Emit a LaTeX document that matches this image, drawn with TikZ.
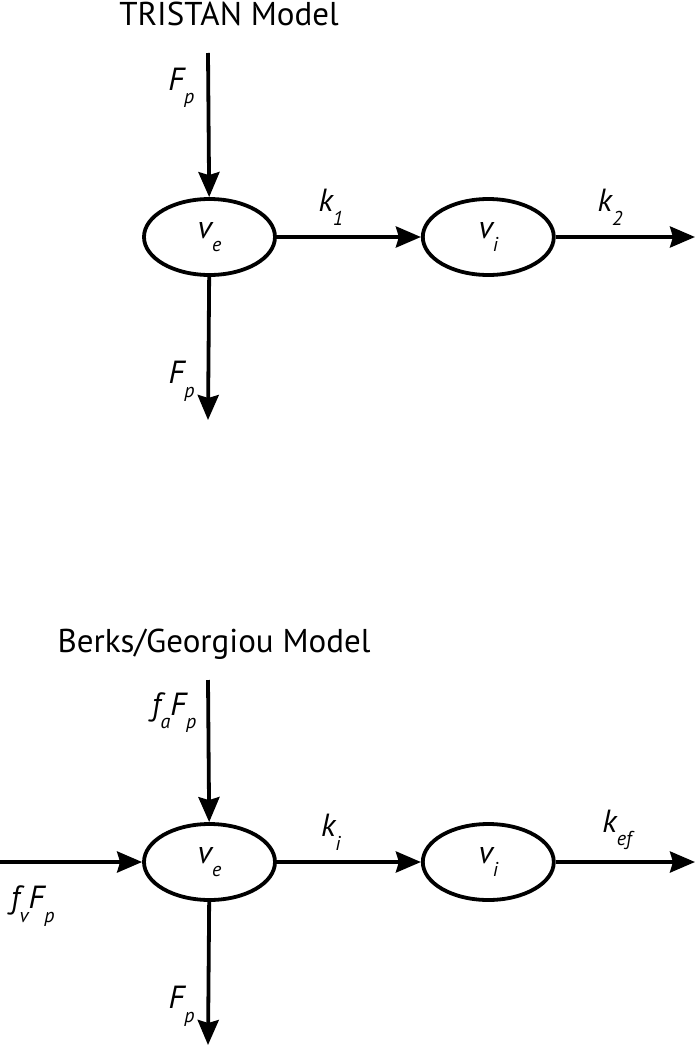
\documentclass[tikz,border=0pt]{standalone}
\usepackage{fontspec}
\setmainfont{PT Sans}
\usetikzlibrary{arrows.meta,positioning,shapes.geometric}

\newcommand{\lowsub}[1]{\raisebox{-0.42em}{\fontsize{20}{22}\selectfont #1}}

\begin{document}
\begin{tikzpicture}[x=1pt, y=-1pt,
  font=\fontsize{33}{38}\selectfont, node distance=144pt,
  pool/.style={draw, ellipse, line width=3.8pt, minimum width=131pt, minimum height=76pt, inner sep=0pt, font=\fontsize{32}{36}\selectfont\itshape},
  flow/.style={->, line width=3.8pt},
  lab/.style={font=\fontsize{32}{36}\selectfont\itshape, inner sep=0pt},
  heading/.style={anchor=base, inner sep=0pt},
  >={Stealth[length=25pt, width=21pt, inset=3pt]}]
\useasboundingbox (0,0) rectangle (696,1049);
% TRISTAN
\node[heading] (ttl1) at (229,26) {TRISTAN Model};
\node[pool] (ve1) at (209.5,237) {v\lowsub{e}};
\node[pool, right=of ve1] (vi1) {v\lowsub{i}};
\coordinate (in1) at (208,53);
\coordinate (out1) at (208,420);
\coordinate (ex1) at (695,237);
\draw[flow] (in1) -- node[lab, pos=0.24, left=12pt]{F\lowsub{p}} (ve1);
\draw[flow] (ve1) -- node[lab, pos=0.73, left=12pt]{F\lowsub{p}} (out1);
\draw[flow] (ve1) -- node[lab, pos=0.375, above=10pt]{k\lowsub{1}} (vi1);
\draw[flow] (vi1) -- node[lab, pos=0.39, above=10pt]{k\lowsub{2}} (ex1);
% Berks/Georgiou
\node[heading] (ttl2) at (214,652) {Berks/Georgiou Model};
\node[pool] (ve2) at (209.5,862) {v\lowsub{e}};
\node[pool, right=of ve2] (vi2) {v\lowsub{i}};
\coordinate (in2) at (208,680);
\coordinate (side2) at (0,862);
\coordinate (out2) at (208,1045);
\coordinate (ex2) at (695,862);
\draw[flow] (in2) -- node[lab, pos=0.23, left=10pt]{f\lowsub{a}F\lowsub{p}} (ve2);
\draw[flow] (side2) -- node[lab, pos=0.23, below=22pt]{f\lowsub{v}F\lowsub{p}} (ve2);
\draw[flow] (ve2) -- node[lab, pos=0.73, left=12pt]{F\lowsub{p}} (out2);
\draw[flow] (ve2) -- node[lab, pos=0.375, above=10pt]{k\lowsub{i}} (vi2);
\draw[flow] (vi2) -- node[lab, pos=0.44, above=10pt]{k\lowsub{ef}} (ex2);
\end{tikzpicture}
\end{document}
